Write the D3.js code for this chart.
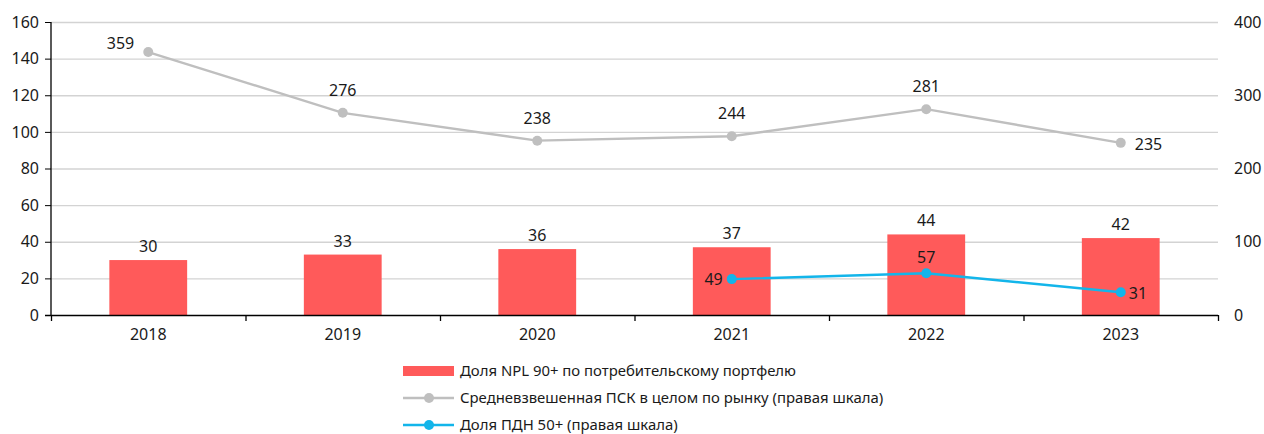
<!DOCTYPE html>
<html><head><meta charset="utf-8">
<script src="https://cdn.jsdelivr.net/npm/d3@7"></script>
<style>body{margin:0;background:#fff}svg{display:block}text{fill:#1a1a1a}
.num{font-family:"Noto Sans",sans-serif;font-size:16px}
.leg{font-family:"Noto Sans",sans-serif;font-size:14.9px}</style>
</head><body><svg id="c" width="1264" height="434"></svg>
<script>
const years = ["2018","2019","2020","2021","2022","2023"];
const npl = [30, 33, 36, 37, 44, 42];
const psk = [359, 276, 238, 244, 281, 235];
const pdnYears = ["2021","2022","2023"];
const pdn = [49, 57, 31];
const leftTicks = [0,20,40,60,80,100,120,140,160];
const rightTicks = [0,100,200,300,400];
const legendLabels = ["Доля NPL 90+ по потребительскому портфелю","Средневзвешенная ПСК в целом по рынку (правая шкала)","Доля ПДН 50+ (правая шкала)"];
const pskLabelPos = ["topleft","top","top","top","top","rightfar"];
const pdnLabelPos = ["left","topnear","right"];

const svg = d3.select("#c");
const L = 51, R = 1218, T = 22, B = 315;
const x = d3.scaleBand().domain(years).range([L,R]);
const yL = d3.scaleLinear().domain([0,160]).range([B,T]);
const yR = d3.scaleLinear().domain([0,400]).range([B,T]);
const red="#FF5A5A", gray="#BFBFBF", blue="#13B5EA";

// grid
svg.append("g").selectAll("line").data(leftTicks.filter(d=>d>0)).join("line")
  .attr("x1",L).attr("x2",R).attr("y1",d=>yL(d)+0.5).attr("y2",d=>yL(d)+0.5)
  .attr("stroke","#D3D3D3").attr("stroke-width",1.3);

// bars
const bw = x.bandwidth()*0.4;
svg.append("g").selectAll("rect").data(npl).join("rect")
  .attr("x",(d,i)=>x(years[i])+x.bandwidth()/2-bw/2).attr("width",bw)
  .attr("y",d=>yL(d)).attr("height",d=>B-yL(d)).attr("fill",red);
svg.append("g").selectAll("text").data(npl).join("text").attr("class","num")
  .attr("x",(d,i)=>x(years[i])+x.bandwidth()/2).attr("y",d=>yL(d)-8)
  .attr("text-anchor","middle").text(d=>d);

// axes
const axL = svg.append("g").attr("transform",`translate(${L},0)`)
  .call(d3.axisLeft(yL).tickValues(leftTicks).tickSize(6).tickPadding(6));
axL.select(".domain").attr("stroke","#000").attr("stroke-width",1.3).attr("d",`M0,${T}V${B}`);
axL.selectAll(".tick line").attr("stroke","#000");
axL.selectAll("text").attr("class","num").attr("fill","#1a1a1a");
axL.attr("font-size",null).attr("font-family",null);

const axR = svg.append("g").attr("transform",`translate(${R},0)`)
  .call(d3.axisRight(yR).tickValues(rightTicks).tickSize(0).tickPadding(16));
axR.select(".domain").remove();
axR.selectAll("text").attr("class","num").attr("fill","#1a1a1a");
axR.attr("font-size",null).attr("font-family",null);

const axB = svg.append("g").attr("transform",`translate(0,${B})`)
  .call(d3.axisBottom(x).tickSize(0).tickPadding(14));
axB.select(".domain").remove();
axB.selectAll("text").attr("class","num").attr("fill","#1a1a1a");
axB.attr("font-size",null).attr("font-family",null);
svg.append("line").attr("x1",L-6).attr("x2",R).attr("y1",B+0.5).attr("y2",B+0.5).attr("stroke","#000").attr("stroke-width",1.3);
svg.append("g").selectAll("line").data(d3.range(years.length+1)).join("line")
  .attr("x1",i=>L+i*x.step()+0.5).attr("x2",i=>L+i*x.step()+0.5).attr("y1",B).attr("y2",B+6)
  .attr("stroke","#000").attr("stroke-width",1.3);

// lines
const cx = d => x(d)+x.bandwidth()/2;
function series(ys, vals, color, pos){
  const pts = vals.map((v,i)=>[cx(ys[i]), yR(v)]);
  svg.append("path").attr("d",d3.line()(pts)).attr("fill","none").attr("stroke",color).attr("stroke-width",2.4);
  svg.append("g").selectAll("circle").data(pts).join("circle").attr("cx",d=>d[0]).attr("cy",d=>d[1]).attr("r",5).attr("fill",color);
  const dx = {left:-9, right:8, rightfar:14, top:0, topnear:0, topleft:-14};
  const dy = {left:6, right:7, rightfar:7, top:-17, topnear:-10, topleft:-3};
  const an = {left:"end", right:"start", rightfar:"start", top:"middle", topnear:"middle", topleft:"end"};
  svg.append("g").selectAll("text").data(vals).join("text").attr("class","num")
    .attr("x",(v,i)=>pts[i][0]+dx[pos[i]])
    .attr("y",(v,i)=>pts[i][1]+dy[pos[i]])
    .attr("text-anchor",(v,i)=>an[pos[i]]).text(v=>v);
}
series(years, psk, gray, pskLabelPos);
series(pdnYears, pdn, blue, pdnLabelPos);

// legend
const lg = svg.append("g");
const rows = [371, 398, 425];
lg.append("rect").attr("x",403).attr("y",rows[0]-5).attr("width",51).attr("height",10).attr("fill",red);
[[gray,1],[blue,2]].forEach(([c,i])=>{
  lg.append("line").attr("x1",403).attr("x2",454).attr("y1",rows[i]).attr("y2",rows[i]).attr("stroke",c).attr("stroke-width",2.4);
  lg.append("circle").attr("cx",429).attr("cy",rows[i]).attr("r",5).attr("fill",c);
});
lg.selectAll("text").data(legendLabels).join("text").attr("class","leg").attr("x",460).attr("y",(d,i)=>rows[i]+5)
  .text(d=>d);
</script></body></html>
